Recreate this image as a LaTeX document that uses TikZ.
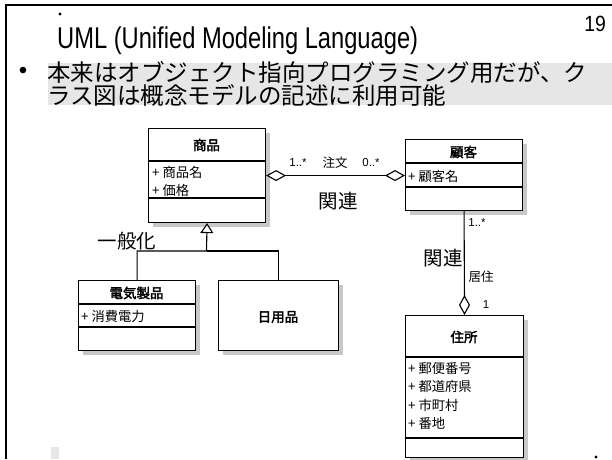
\documentclass[tikz,border=0pt]{standalone}
\usepackage{fontspec}
\usepackage{graphicx}
\setmainfont{Liberation Sans}
\newfontfamily\jp{Noto Sans CJK JP}
\newfontfamily\jpb{Noto Sans CJK JP}[FakeBold=2.5]
\usetikzlibrary{arrows.meta,shadows}
\definecolor{band}{HTML}{E6E6E6}
\definecolor{shad}{HTML}{C8C8C8}
\tikzset{
  agg/.tip={Diamond[fill=white,length=20pt,width=11pt]},
  gentip/.tip={Triangle[fill=white,length=10pt,width=13pt]}
}
\begin{document}
\begin{tikzpicture}[x=1pt,y=-1pt,
  cls/.style={draw, line width=1.1pt, fill=white, inner sep=0pt, anchor=north west,
    drop shadow={shadow xshift=4pt, shadow yshift=-4pt, fill=shad, opacity=1}},
  divider/.style={line width=1.1pt},
  attr/.style={anchor=west, inner sep=0pt, font=\jp\fontsize{13.3}{15}\selectfont},
  hdr/.style={inner sep=0pt, font=\jpb\fontsize{13.5}{15}\selectfont},
  mult/.style={inner sep=0pt, font=\fontsize{11.5}{13}\selectfont},
  role/.style={inner sep=0pt, font=\jp\fontsize{12.5}{14}\selectfont},
  big/.style={inner sep=0pt, font=\jp\fontsize{19.5}{22}\selectfont},
  conn/.style={line width=1.1pt}
]
\useasboundingbox (0,0) rectangle (612,459);
% slide frame
\fill[band] (48,63) rectangle (612,105);
\fill[band] (51,447) rectangle (59,459);
\draw[line width=2pt] (6,459) -- (6,5) -- (612,5);
\fill (60,14) circle (1.6);
\fill (596,457) circle (1.6);
% title and text
\node[anchor=base west, inner sep=0pt, font=\fontsize{30}{34}\selectfont] (title) at (57,48)
  {\scalebox{0.79}[1]{UML (Unified Modeling Language)}};
\node[anchor=base east, inner sep=0pt, font=\fontsize{22}{24}\selectfont] (pageno) at (606,31)
  {\scalebox{0.88}[1]{19}};
\node[inner sep=0pt, font=\fontsize{24}{26}\selectfont] (bul) at (23,73) {•};
\node[anchor=west, inner sep=0pt, font=\jp\fontsize{23.5}{26}\selectfont] (l1) at (47,72)
  {本来はオブジェクト指向プログラミング用だが、ク};
\node[anchor=west, inner sep=0pt, font=\jp\fontsize{23.5}{26}\selectfont] (l2) at (47,95)
  {ラス図は概念モデルの記述に利用可能};
% classes
\node[cls, minimum width=117pt, minimum height=94pt] (shohin) at (148,128) {};
\draw[divider] ([yshift=-33pt]shohin.north west) -- ([yshift=-33pt]shohin.north east);
\draw[divider] ([yshift=-70pt]shohin.north west) -- ([yshift=-70pt]shohin.north east);
\node[hdr] (shohinh) at (206.5,145) {商品};
\node[attr] (shohina1) at (152,172) {+ 商品名};
\node[attr] (shohina2) at (152,190) {+ 価格};

\node[cls, minimum width=117pt, minimum height=71pt] (kokyaku) at (405,139) {};
\draw[divider] ([yshift=-24pt]kokyaku.north west) -- ([yshift=-24pt]kokyaku.north east);
\draw[divider] ([yshift=-48pt]kokyaku.north west) -- ([yshift=-48pt]kokyaku.north east);
\node[hdr] (kokyakuh) at (463.5,152) {顧客};
\node[attr] (kokyakua1) at (408,176) {+ 顧客名};

\node[cls, minimum width=117pt, minimum height=70pt] (denki) at (78,280) {};
\draw[divider] ([yshift=-24pt]denki.north west) -- ([yshift=-24pt]denki.north east);
\draw[divider] ([yshift=-47pt]denki.north west) -- ([yshift=-47pt]denki.north east);
\node[hdr] (denkih) at (136.5,293) {電気製品};
\node[attr] (denkia1) at (81,316) {+ 消費電力};

\node[cls, minimum width=120pt, minimum height=70pt] (nichiyo) at (218,280) {};
\node[hdr] (nichiyoh) at (278,317) {日用品};

\node[cls, minimum width=118pt, minimum height=142pt] (jusho) at (405,315) {};
\draw[divider] ([yshift=-42pt]jusho.north west) -- ([yshift=-42pt]jusho.north east);
\draw[divider] ([yshift=-123pt]jusho.north west) -- ([yshift=-123pt]jusho.north east);
\node[hdr] (jushoh) at (464,337) {住所};
\node[attr] (jushoa1) at (408,368) {+ 郵便番号};
\node[attr] (jushoa2) at (408,386.5) {+ 都道府県};
\node[attr] (jushoa3) at (408,405) {+ 市町村};
\node[attr] (jushoa4) at (408,423) {+ 番地};
% connectors
\draw[conn, agg-agg] (shohin.east) -- (kokyaku.west |- shohin.east);
\draw[conn, -agg] (kokyaku.south) -- (jusho.north);
\coordinate (gj) at (206.5,251);
\draw[conn, -gentip] (denki.north) |- (gj) -- (shohin.south);
\draw[conn] (nichiyo.north) |- (gj);
% labels
\node[mult] (m1) at (298,163) {1..*};
\node[role] (r1) at (335,163) {注文};
\node[mult] (m2) at (371,163) {0..*};
\node[big] (k1) at (338,201) {関連};
\node[big] (g1) at (127,241) {一般化};
\node[mult] (m3) at (477,223) {1..*};
\node[big] (k2) at (443,258) {関連};
\node[role] (r2) at (481,277) {居住};
\node[mult] (m4) at (486,305) {1};
\end{tikzpicture}
\end{document}
